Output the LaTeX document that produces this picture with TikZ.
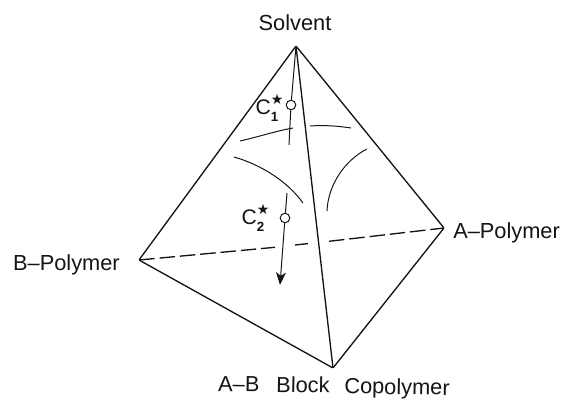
\documentclass[tikz,border=0pt]{standalone}
\usepackage{fontspec}
\setsansfont{Liberation Sans}
\newfontfamily\symbolfont{DejaVu Sans}
\usetikzlibrary{arrows.meta}
\newcommand{\critlabel}[1]{C$^{\raisebox{1.5pt}{\symbolfont\fontsize{10}{10}\selectfont ★}}_{\raisebox{-1.5pt}{\sffamily\bfseries\fontsize{9.5}{10}\selectfont #1}}$}
\tikzset{
    edgeline/.style={draw={rgb,255:red,20;green,20;blue,20}, line width=0.95pt},
    hiddenline/.style={edgeline, dash pattern=on 11pt off 3.5pt},
    surfaceline/.style={draw={rgb,255:red,20;green,20;blue,20}, line width=0.7pt},
    corner/.style={inner sep=0pt, minimum size=0pt},
    point/.style={circle, draw={rgb,255:red,20;green,20;blue,20}, fill=white, line width=0.7pt, inner sep=0pt, minimum size=6.8pt},
    labeltext/.style={font=\sffamily\fontsize{15.5}{17}\selectfont, text={rgb,255:red,20;green,20;blue,20}, inner sep=0pt}
}
\begin{document}
\begin{tikzpicture}[x=0.025cm, y=-0.025cm]

    \useasboundingbox (0,0) rectangle (561,399);

    \node[corner] (ndSolvent) at (296,46) {};
    \node[corner] (ndAPolymer) at (444,228) {};
    \node[corner] (ndBPolymer) at (139,260) {};
    \node[corner] (ndCopolymer) at (333,368) {};
    \node[point] (ndCOne) at (291,105) {};
    \node[point] (ndCTwo) at (285,218) {};
    \coordinate (ndOneEnd) at (289,145);
    \coordinate (ndTwoStart) at (287,193);
    \coordinate (ndTwoEnd) at (280,285);
    \coordinate (ndGapA) at (275,247.3);
    \coordinate (ndGapB) at (295,245);
    \coordinate (ndGapC) at (308,243.6);
    \coordinate (ndGapD) at (329,241.3);

    \node[labeltext] (ndLabelS) at (295,23) {Solvent};
    \node[labeltext, anchor=west] (ndLabelA) at (453,233) {A--Polymer};
    \node[labeltext, anchor=east] (ndLabelB) at (120,265) {B--Polymer};
    \node[labeltext, anchor=west, rotate=-1] (ndLabelC) at (218,385.5) {A--B\hspace{12pt}Block\hspace{10.5pt}Copolymer};
    \node[labeltext, font=\sffamily\fontsize{15}{15}\selectfont] (ndLabelOne) at (270,108) {\critlabel{1}};
    \node[labeltext, font=\sffamily\fontsize{15}{15}\selectfont] (ndLabelTwo) at (256,218) {\critlabel{2}};

    \draw[edgeline] (ndSolvent) -- (ndAPolymer);
    \draw[edgeline] (ndAPolymer) -- (ndCopolymer);
    \draw[edgeline] (ndCopolymer) -- (ndBPolymer);
    \draw[edgeline] (ndBPolymer) -- (ndSolvent);
    \draw[edgeline] (ndSolvent) -- (ndCopolymer);
    \draw[hiddenline] (ndBPolymer) -- (ndGapA);
    \draw[edgeline] (ndGapB) -- (ndGapC);
    \draw[hiddenline] (ndGapD) -- (ndAPolymer);
    \draw[surfaceline] (ndSolvent) -- (ndCOne);
    \draw[surfaceline] (ndCOne) -- (ndOneEnd);
    \draw[surfaceline] (ndTwoStart) -- (ndCTwo);
    \draw[surfaceline, -{Stealth[length=9pt, width=7pt, inset=2.5pt]}] (ndCTwo) -- (ndTwoEnd);

    \draw[surfaceline] (240,141) .. controls (258,137) and (276,131) .. (293,128);
    \draw[surfaceline] (310,126) .. controls (325,125) and (338,126) .. (351,128);
    \draw[surfaceline] (234,157) .. controls (262,165) and (288,182) .. (303,203);
    \draw[surfaceline] (327,211) .. controls (328,185) and (345,160) .. (367,149);
\end{tikzpicture}
\end{document}
